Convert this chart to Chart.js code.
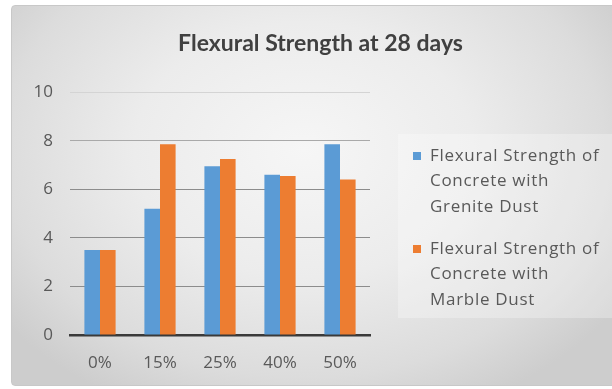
<!DOCTYPE html>
<html>
<head>
<meta charset="utf-8">
<script src="https://cdn.jsdelivr.net/npm/chart.js@4/dist/chart.umd.min.js"></script>
<style>
  html, body { margin: 0; padding: 0; background: #ffffff; }
  #wrap { position: relative; width: 612px; height: 389px; overflow: hidden; }
  #card {
    position: absolute; left: 11px; top: 5px; width: 610px; height: 381px;
    box-sizing: border-box; border: 1px solid #c8c8c8; border-radius: 4px;
    background: radial-gradient(ellipse 62% 75% at 48% 38%, #f6f6f6 0%, #ececec 45%, #dcdcdc 80%, #cdcdcd 100%);
  }
  #chart { position: absolute; left: 0; top: 0; }
</style>
</head>
<body>
<div id="wrap">
  <div id="card"></div>
  <canvas id="chart" width="612" height="389"></canvas>
</div>
<script>
// Replacement levels
const categories = ['0%', '15%', '25%', '40%', '50%'];
// Flexural strength (N/mm²) at 28 days
const graniteDust = [3.5, 5.2, 6.95, 6.6, 7.85];
const marbleDust  = [3.5, 7.85, 7.25, 6.55, 6.4];
const seriesNames = [
  ['Flexural Strength of', 'Concrete with', 'Grenite Dust'],
  ['Flexural Strength of', 'Concrete with', 'Marble Dust']
];
const yTicks = [0, 2, 4, 6, 8, 10];

const BLUE = '#5b9bd5';
const ORANGE = '#ed7d31';
const TEXT = '#595959';

// Legend drawn on the right, with wrapped multi-line entries
const sideLegend = {
  id: 'sideLegend',
  afterDraw(chart) {
    const ctx = chart.ctx;
    ctx.save();
    ctx.fillStyle = 'rgba(255,255,255,0.28)';
    ctx.fillRect(398, 134, 214, 184);
    ctx.font = '17px "Open Sans"';
    if ('letterSpacing' in ctx) ctx.letterSpacing = '0.7px';
    ctx.textBaseline = 'middle';
    ctx.textAlign = 'left';
    const startY = [156, 249];
    const lineH = 25.5;
    chart.data.datasets.forEach((ds, i) => {
      const lines = seriesNames[i];
      ctx.fillStyle = ds.backgroundColor;
      ctx.fillRect(413, startY[i] - 4, 8, 8);
      ctx.fillStyle = TEXT;
      lines.forEach((ln, j) => ctx.fillText(ln, 430, startY[i] + j * lineH));
    });
    ctx.restore();
  }
};

new Chart(document.getElementById('chart'), {
  type: 'bar',
  data: {
    labels: categories,
    datasets: [
      { label: seriesNames[0].join(' '), data: graniteDust, backgroundColor: BLUE },
      { label: seriesNames[1].join(' '), data: marbleDust, backgroundColor: ORANGE }
    ]
  },
  options: {
    responsive: false,
    animation: false,
    layout: { padding: { left: 29, right: 0, top: 0, bottom: 0 } },
    datasets: { bar: { categoryPercentage: 0.52, barPercentage: 1.0 } },
    plugins: {
      legend: { display: false },
      tooltip: { enabled: false },
      title: {
        display: true,
        text: 'Flexural Strength at 28 days',
        color: '#404040',
        font: { family: 'Lato', size: 23, weight: 'bold' },
        padding: { top: 30, bottom: 34.5 }
      }
    },
    scales: {
      x: {
        grid: { display: false, drawTicks: false },
        border: { display: true, color: '#3a3a3a', width: 2.5 },
        ticks: { color: TEXT, font: { family: 'Open Sans', size: 17 }, padding: 18 },
        afterFit(s) { s.height = 54; }
      },
      y: {
        min: 0, max: 10,
        afterBuildTicks(s) { s.ticks = yTicks.map(v => ({ value: v })); },
        grid: {
          drawTicks: false,
          color(c) {
            const v = c.tick.value;
            if (v === 0) return 'rgba(0,0,0,0)';
            if (v === 10) return '#d4d4d4';
            if (v === 8) return '#a9a9a9';
            return '#8c8c8c';
          },
          lineWidth: 1
        },
        border: { display: false },
        ticks: { color: TEXT, font: { family: 'Open Sans', size: 17 }, padding: 17 },
        afterFit(s) { s.width = 41; }
      },
      // reserves the space on the right where the legend sits
      legendSpace: {
        type: 'linear',
        position: 'right',
        grid: { display: false, drawTicks: false },
        border: { display: false },
        ticks: { display: false },
        afterFit(s) { s.width = 242; }
      }
    }
  },
  plugins: [sideLegend]
});
</script>
</body>
</html>
